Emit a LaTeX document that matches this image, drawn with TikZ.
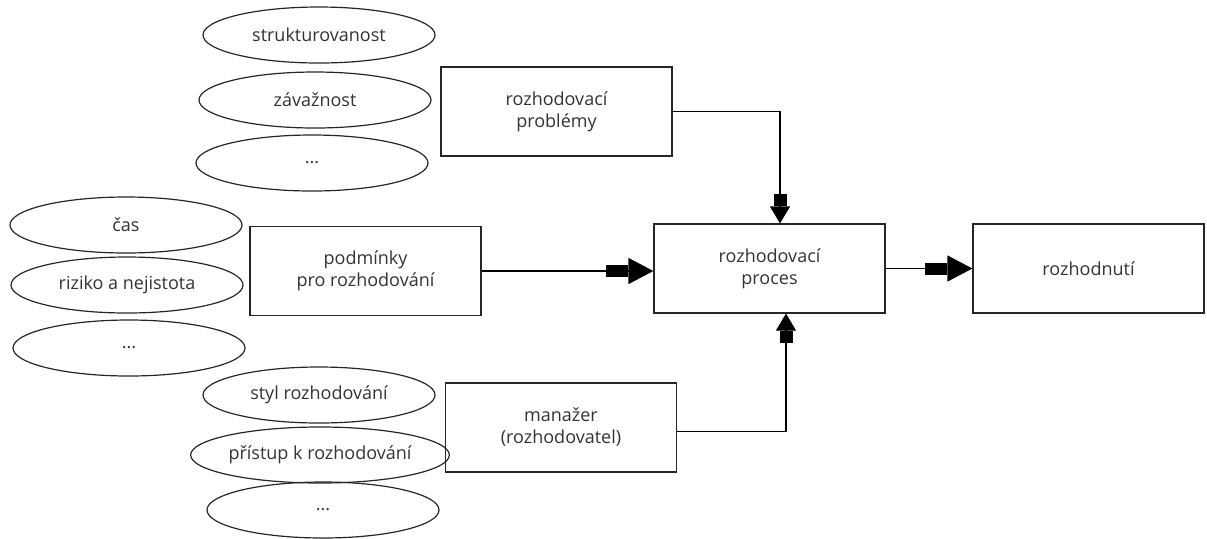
\documentclass[tikz,border=0pt]{standalone}
\usepackage{fontspec}
\setmainfont{Open Sans}
\usetikzlibrary{shapes.geometric,arrows.meta}

\tikzset{
    faktor/.style={ellipse, draw=black!85, line width=0.6pt, minimum width=116pt,
        minimum height=28pt, inner sep=0pt, font=\small, text=black!80},
    blok/.style={rectangle, draw=black!85, line width=0.6pt, minimum width=115.5pt,
        minimum height=44.5pt, align=center, font=\small, text=black!80},
    spoj/.style={draw=black, line width=0.6pt},
    sipka/.style={spoj, -{Rectangle[length=11pt,width=6pt,sep=0pt]Triangle[length=12.5pt,width=13pt]}},
    malasipka/.style={spoj, -{Rectangle[length=6pt,width=6.5pt,sep=0pt]Triangle[length=8.5pt,width=10pt]}},
}

\begin{document}
\begin{tikzpicture}[x=0.5pt, y=-0.5pt]
    \useasboundingbox (0,0) rectangle (1207,538);

    % ellipses
    \node[faktor] (strukt) at (319,35) {strukturovanost};
    \node[faktor] (zavaz) at (315,100) {závažnost};
    \node[faktor] (dalsiA) at (312,163) {...};

    \node[faktor] (cas) at (126,225) {čas};
    \node[faktor] (riziko) at (127,285) {riziko a nejistota};
    \node[faktor] (dalsiB) at (129,348) {...};

    \node[faktor] (styl) at (319,395) {styl rozhodování};
    \node[faktor] (pristup) at (320,455) {přístup k rozhodování};
    \node[faktor] (dalsiC) at (323,510) {...};

    % boxes
    \node[blok] (problemy) at (556.5,111.5) {rozhodovací\\problémy};
    \node[blok] (podminky) at (365.5,271) {podmínky\\pro rozhodování};
    \node[blok] (manazer) at (561,427.5) {manažer\\(rozhodovatel)};
    \node[blok] (proces) at (769.5,268.5) {rozhodovací\\proces};
    \node[blok] (rozhodnuti) at (1088.5,268.5) {rozhodnutí};

    % arrows
    \draw[sipka] (podminky.east) -- (podminky.east -| proces.west);
    \draw[sipka] (proces.east) -- (rozhodnuti.west);
    \draw[malasipka] (problemy.east) -| ([xshift=5.25pt]proces.north);
    \draw[malasipka] ([yshift=-2pt]manazer.east) -| ([xshift=8.25pt]proces.south);
\end{tikzpicture}
\end{document}
